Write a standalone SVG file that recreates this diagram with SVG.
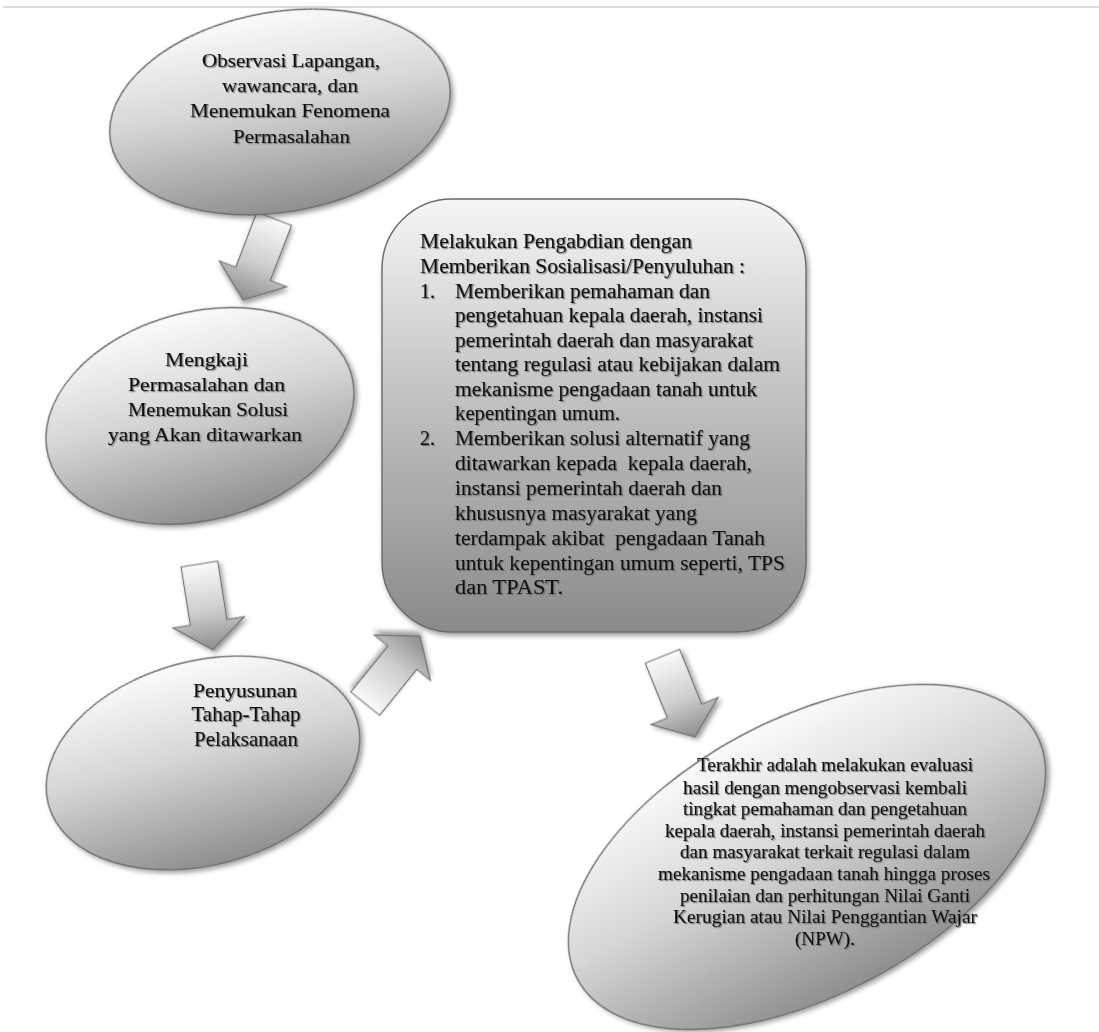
<svg xmlns="http://www.w3.org/2000/svg" width="1099" height="1032" viewBox="0 0 1099 1032">
<defs>
<style>
.shape{stroke:#6a6a6a;stroke-width:1.4;filter:url(#sh)}
.t{font-family:"Liberation Serif","Times New Roman",serif;fill:#111;stroke:#111;stroke-width:0.15;filter:url(#ts)}
.e{font-size:19px}
.r{font-size:20px}
.s{font-size:18px}
.arrow{fill:url(#ga);stroke:#6e6e6e;stroke-width:1.2;filter:url(#sh)}
</style>
<linearGradient id="ge" x1="0" y1="0" x2="0" y2="1">
<stop offset="0" stop-color="#fbfbfb"/>
<stop offset="0.45" stop-color="#d6d6d6"/>
<stop offset="1" stop-color="#8f8f8f"/>
</linearGradient>
<linearGradient id="gr" x1="0" y1="0" x2="0" y2="1">
<stop offset="0" stop-color="#f6f6f6"/>
<stop offset="0.5" stop-color="#bdbdbd"/>
<stop offset="1" stop-color="#8a8a8a"/>
</linearGradient>
<linearGradient id="ga" x1="0" y1="0" x2="0" y2="1">
<stop offset="0" stop-color="#fafafa"/>
<stop offset="0.55" stop-color="#cdcdcd"/>
<stop offset="1" stop-color="#8c8c8c"/>
</linearGradient>
<filter id="sh" x="-20%" y="-20%" width="140%" height="140%">
<feDropShadow dx="2" dy="3" stdDeviation="2.5" flood-color="#000" flood-opacity="0.4"/>
</filter>
<filter id="ts" x="-5%" y="-30%" width="110%" height="160%">
<feDropShadow dx="1.2" dy="1.2" stdDeviation="0.6" flood-color="#666" flood-opacity="0.8"/>
</filter>
<path id="arr" d="M-18.5,-87 L18.5,-87 L18.5,-28 L36,-28 L0,0 L-36,-28 L-18.5,-28 Z"/>
</defs>
<rect width="1099" height="1032" fill="#fff"/>
<line x1="3" y1="7" x2="1099" y2="7" stroke="#dcdcdc" stroke-width="2"/>

<g id="connectors">
<use href="#arr" class="arrow" transform="translate(243,300) rotate(21)"/>
<use href="#arr" class="arrow" transform="translate(213,650) rotate(-9)"/>
<use href="#arr" class="arrow" transform="translate(420,636) rotate(219)"/>
<use href="#arr" class="arrow" transform="translate(695,737) rotate(-22)"/>
</g>

<g id="node-observasi">
<ellipse class="shape" cx="0" cy="0" rx="172" ry="100" fill="url(#ge)" transform="translate(280,112) rotate(-10)"/>
<text class="t e" x="202" y="67" textLength="178" lengthAdjust="spacingAndGlyphs">Observasi Lapangan,</text>
<text class="t e" x="222" y="92" textLength="136" lengthAdjust="spacingAndGlyphs">wawancara, dan</text>
<text class="t e" x="190" y="117" textLength="200" lengthAdjust="spacingAndGlyphs">Menemukan Fenomena</text>
<text class="t e" x="233" y="143" textLength="117" lengthAdjust="spacingAndGlyphs">Permasalahan</text>
</g>

<g id="node-mengkaji">
<ellipse class="shape" cx="0" cy="0" rx="157" ry="104" fill="url(#ge)" transform="translate(200,416) rotate(-15)"/>
<text class="t e" x="165" y="366" textLength="83" lengthAdjust="spacingAndGlyphs">Mengkaji</text>
<text class="t e" x="128" y="391" textLength="157" lengthAdjust="spacingAndGlyphs">Permasalahan dan</text>
<text class="t e" x="128" y="416" textLength="160" lengthAdjust="spacingAndGlyphs">Menemukan Solusi</text>
<text class="t e" x="108" y="441" textLength="194" lengthAdjust="spacingAndGlyphs">yang Akan ditawarkan</text>
</g>

<g id="node-penyusunan">
<ellipse class="shape" cx="0" cy="0" rx="160" ry="102" fill="url(#ge)" transform="translate(203,763) rotate(-15)"/>
<text class="t e" x="193" y="697" textLength="104" lengthAdjust="spacingAndGlyphs">Penyusunan</text>
<text class="t e" x="246" y="721" text-anchor="middle" style="font-size:21px">Tahap-Tahap</text>
<text class="t e" x="246" y="746" text-anchor="middle" style="font-size:21px">Pelaksanaan</text>
</g>

<g id="node-pengabdian">
<rect class="shape" x="382" y="199" width="424" height="433" rx="70" ry="70" fill="url(#gr)"/>
<text class="t r" x="420" y="248" textLength="272" lengthAdjust="spacingAndGlyphs">Melakukan Pengabdian dengan</text>
<text class="t r" x="420" y="273" textLength="325" lengthAdjust="spacingAndGlyphs">Memberikan Sosialisasi/Penyuluhan :</text>
<text class="t r" x="420" y="298">1.</text>
<text class="t r" x="455" y="298" textLength="255" lengthAdjust="spacingAndGlyphs">Memberikan pemahaman dan</text>
<text class="t r" x="455" y="322" textLength="308" lengthAdjust="spacingAndGlyphs">pengetahuan kepala daerah, instansi</text>
<text class="t r" x="455" y="347" textLength="298" lengthAdjust="spacingAndGlyphs">pemerintah daerah dan masyarakat</text>
<text class="t r" x="455" y="371" textLength="325" lengthAdjust="spacingAndGlyphs">tentang regulasi atau kebijakan dalam</text>
<text class="t r" x="455" y="396" textLength="302" lengthAdjust="spacingAndGlyphs">mekanisme pengadaan tanah untuk</text>
<text class="t r" x="455" y="420" textLength="165" lengthAdjust="spacingAndGlyphs">kepentingan umum.</text>
<text class="t r" x="420" y="445">2.</text>
<text class="t r" x="455" y="445" textLength="295" lengthAdjust="spacingAndGlyphs">Memberikan solusi alternatif yang</text>
<text class="t r" x="455" y="470" textLength="297" lengthAdjust="spacingAndGlyphs" xml:space="preserve">ditawarkan kepada  kepala daerah,</text>
<text class="t r" x="455" y="495" textLength="267" lengthAdjust="spacingAndGlyphs">instansi pemerintah daerah dan</text>
<text class="t r" x="455" y="520" textLength="242" lengthAdjust="spacingAndGlyphs">khususnya masyarakat yang</text>
<text class="t r" x="455" y="545" textLength="310" lengthAdjust="spacingAndGlyphs" xml:space="preserve">terdampak akibat  pengadaan Tanah</text>
<text class="t r" x="455" y="570" textLength="330" lengthAdjust="spacingAndGlyphs">untuk kepentingan umum seperti, TPS</text>
<text class="t r" x="455" y="594" textLength="108" lengthAdjust="spacingAndGlyphs">dan TPAST.</text>
</g>

<g id="node-evaluasi">
<ellipse class="shape" cx="0" cy="0" rx="260" ry="138" fill="url(#ge)" transform="translate(807,857) rotate(-28)"/>
<text class="t s" x="697" y="771" textLength="276" lengthAdjust="spacingAndGlyphs">Terakhir adalah melakukan evaluasi</text>
<text class="t s" x="683" y="794" textLength="284" lengthAdjust="spacingAndGlyphs">hasil dengan mengobservasi kembali</text>
<text class="t s" x="683" y="815" textLength="284" lengthAdjust="spacingAndGlyphs">tingkat pemahaman dan pengetahuan</text>
<text class="t s" x="665" y="837" textLength="320" lengthAdjust="spacingAndGlyphs">kepala daerah, instansi pemerintah daerah</text>
<text class="t s" x="680" y="858" textLength="290" lengthAdjust="spacingAndGlyphs">dan masyarakat terkait regulasi dalam</text>
<text class="t s" x="658" y="880" textLength="332" lengthAdjust="spacingAndGlyphs">mekanisme pengadaan tanah hingga proses</text>
<text class="t s" x="680" y="902" textLength="290" lengthAdjust="spacingAndGlyphs">penilaian dan perhitungan Nilai Ganti</text>
<text class="t s" x="673" y="923" textLength="304" lengthAdjust="spacingAndGlyphs">Kerugian atau Nilai Penggantian Wajar</text>
<text class="t s" x="795" y="945" textLength="60" lengthAdjust="spacingAndGlyphs">(NPW).</text>
</g>
</svg>
